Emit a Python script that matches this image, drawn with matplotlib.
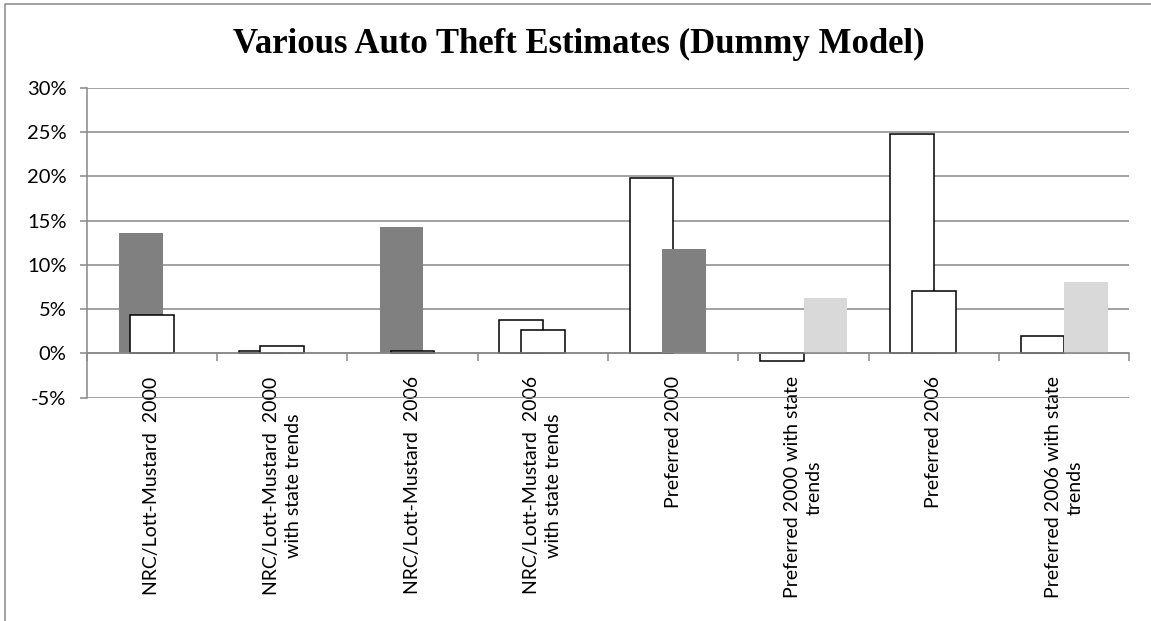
import numpy as np
import matplotlib.pyplot as plt
from matplotlib.lines import Line2D
from matplotlib.ticker import FuncFormatter, MultipleLocator

categories = [
    "NRC/Lott-Mustard  2000",
    "NRC/Lott-Mustard  2000\nwith state trends",
    "NRC/Lott-Mustard  2006",
    "NRC/Lott-Mustard  2006\nwith state trends",
    "Preferred 2000",
    "Preferred 2000 with state\ntrends",
    "Preferred 2006",
    "Preferred 2006 with state\ntrends",
]

# estimates in percent, nan where a series has no bar for that model
nan = np.nan
est_a = [nan, 0.3, nan, 3.8, 19.85, -0.8, 24.8, 1.95]      # white
est_b = [13.6, nan, 14.3, nan, nan, nan, nan, nan]         # dark
est_c = [4.35, 0.87, 0.27, 2.67, nan, nan, 7.1, nan]       # white
est_d = [nan, nan, nan, nan, 11.85, nan, nan, nan]         # dark
est_e = [nan, nan, nan, nan, nan, 6.28, nan, 8.1]          # light

series = [
    (est_a, "white", "black"),
    (est_b, "#808080", "none"),
    (est_c, "white", "black"),
    (est_d, "#808080", "none"),
    (est_e, "#d9d9d9", "none"),
]

grid_col = "#888888"
sans = "Lato"
fig = plt.figure(figsize=(11.51, 6.21), dpi=100)
ax = fig.add_axes([0.0753, 0.3596, 0.9059, 0.4987])

x = np.arange(len(categories))
w = 1 / 3
for k, (vals, fc, ec) in enumerate(series):
    vals = np.array(vals, dtype=float)
    m = ~np.isnan(vals)
    ax.bar(x[m] + (k - 2) * w / 4, vals[m], width=w, color=fc,
           edgecolor=ec, linewidth=1.1, zorder=2 + k)

ax.set_xlim(-0.5, len(categories) - 0.5)
ax.set_ylim(-5, 30)
ax.yaxis.set_major_locator(MultipleLocator(5))
ax.yaxis.set_major_formatter(FuncFormatter(lambda v, p: f"{v:.0f}%"))
ax.grid(axis="y", color=grid_col, linewidth=1.1)
ax.set_axisbelow(True)

for s in ["top", "right"]:
    ax.spines[s].set_visible(False)
ax.spines["left"].set_color(grid_col)
ax.spines["left"].set_linewidth(1.1)
ax.spines["bottom"].set_position(("data", 0))
ax.spines["bottom"].set_color(grid_col)
ax.spines["bottom"].set_linewidth(1.1)
ax.spines["bottom"].set_zorder(10)

ax.set_xticks(x)
ax.set_xticklabels(categories, rotation=90, fontsize=14, family=sans)
for lbl in ax.get_xticklabels():
    lbl.set_multialignment("center")
    lbl.set_linespacing(1.35)
ax.set_xticks(np.arange(len(categories) + 1) - 0.5, minor=True)
ax.tick_params(axis="x", which="major", length=0, pad=16.5)
ax.tick_params(axis="x", which="minor", direction="out", length=5.5,
               color=grid_col, width=1.1)
ax.tick_params(axis="y", direction="out", length=5, color=grid_col,
               width=1.1, pad=9.5)
for lbl in ax.get_yticklabels():
    lbl.set_fontsize(14.5)
    lbl.set_family(sans)

fig.text(0.503, 1 - 53 / 621, "Various Auto Theft Estimates (Dummy Model)",
         ha="center", va="baseline", fontsize=25, fontweight="bold",
         family="Liberation Serif")

# chart frame (top and left edges)
fig.add_artist(Line2D([5 / 1151, 5 / 1151, 1], [0, 1 - 4 / 621, 1 - 4 / 621],
                      transform=fig.transFigure, color=grid_col, linewidth=1.1))

fig.savefig("out.png", dpi=100)
